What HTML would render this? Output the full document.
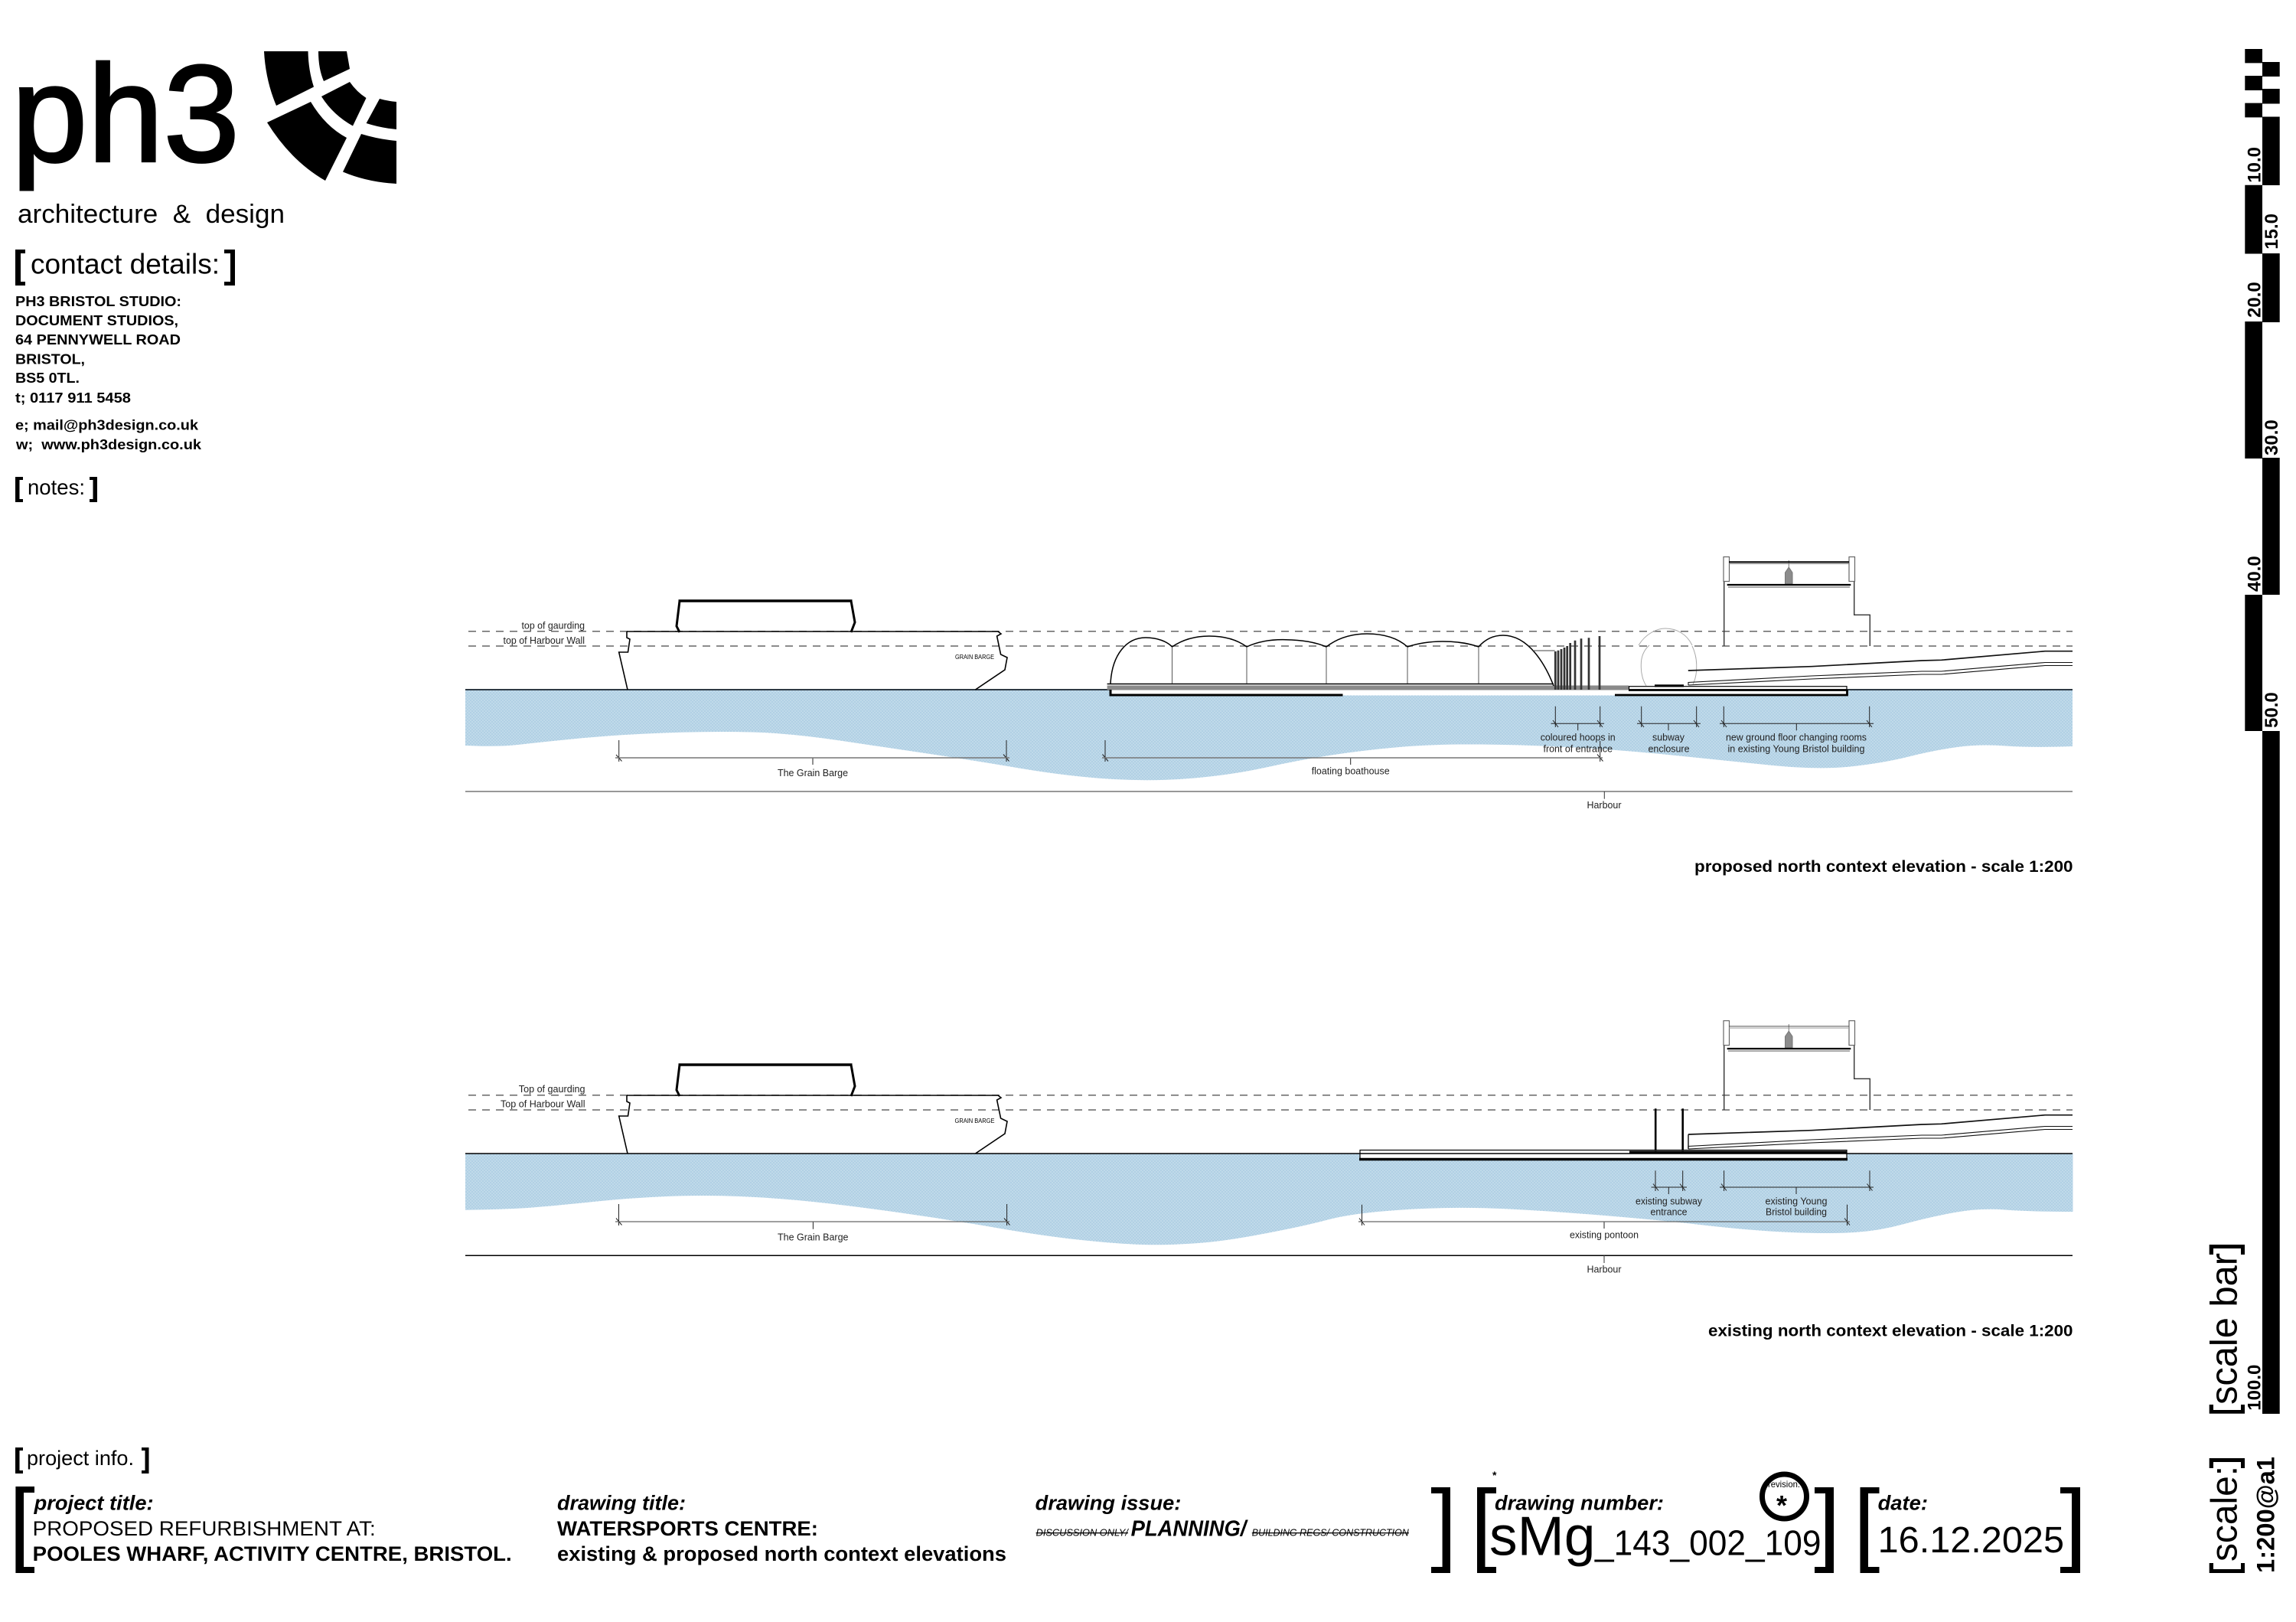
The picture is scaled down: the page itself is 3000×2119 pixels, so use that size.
<!DOCTYPE html>
<html><head><meta charset="utf-8"><title>ph3 north context elevations</title>
<style>html,body{margin:0;padding:0;background:#fff}svg{display:block}text{font-family:"Liberation Sans",sans-serif;fill:#000}.n{fill:#222;font-size:13px}.b{font-weight:bold}.bi{font-weight:bold;font-style:italic}</style></head>
<body>
<svg xmlns="http://www.w3.org/2000/svg" width="3000" height="2119" viewBox="0 0 3000 2119">
<defs>
<pattern id="w" width="4" height="4" patternUnits="userSpaceOnUse"><rect width="4" height="4" fill="#b9d5e7"/><path d="M0 1H2M2 3H4" stroke="#a9cbe1" stroke-width="1"/><path d="M2 1H4M0 3H2" stroke="#c8dfee" stroke-width="1"/></pattern>
<g id="barge">
<path d="M888,785 L884,818 L888,826 M1112,785 L1117,813 L1112,826" fill="none" stroke="#000" stroke-width="3"/>
<path d="M886.5,785 H1113.5" fill="none" stroke="#000" stroke-width="3.6"/>
<path d="M819,825 H1304 L1308,828 L1302.6,831 L1307.6,855 L1316,859 L1313,875 L1274.5,901 M819,825 V833 L823,835 L820.5,852 H808.7 L820,901" fill="none" stroke="#000" stroke-width="1.6"/>
</g>
<g id="bldg">
<path d="M2252.7,759.3 V844 M2422.7,759.3 V803.3 H2443.3 V844" fill="none" stroke="#333" stroke-width="1.4"/>
<rect x="2252" y="727.5" width="7.5" height="32" fill="#fff" stroke="#666" stroke-width="1.2"/>
<rect x="2416" y="727.5" width="7.5" height="32" fill="#fff" stroke="#666" stroke-width="1.2"/>
<path d="M2337.3,732 V741 M2332.5,748 L2337.3,741 L2342,748 V762.7 H2332.5Z" fill="#8c8c8c" stroke="#777"/>
<path d="M2256.7,764 H2418.3" stroke="#000" stroke-width="2.2"/>
<path d="M2258,767 H2417" stroke="#777" stroke-width="1.3"/>
</g>
<g id="ramp" fill="none" stroke="#111">
<path d="M2205.8,876 L2367,870.7 L2511,863 L2536.6,862.3 L2672,850.7 H2708" stroke-width="1.7"/>
<path d="M2206,895 V891.5 L2367,883 L2511,877 L2536.6,877 L2672,865.5 H2708" stroke-width="1.1"/>
<path d="M2206,895 L2367,887 L2511,881 L2536.6,881 L2672,869.5 H2708" stroke-width="1.1"/>
</g>
</defs>

<!-- logo -->
<text x="15" y="210.6" font-size="180" textLength="298" lengthAdjust="spacingAndGlyphs" stroke="#000" stroke-width="3">ph3</text>
<path d="M345,67H402.5Q403,92 410,113.5L361,138Q347,105 345,67Z M416,67H453L457,90L423,106Q416,90 416,67Z M420,126L457,107Q466,120 478.5,128L461,164.5Q435,150 420,126Z M496,129Q506,132 518,133V169Q497,167 478.6,161Z M349,160L406,133Q425,165 453,180L425,236Q380,210 349,160Z M472,175Q495,182 518,184V240Q480,238 448,224.5Z" fill="#000"/>
<text x="23" y="291" font-size="34" textLength="349" lengthAdjust="spacingAndGlyphs" xml:space="preserve">architecture  &amp;  design</text>

<!-- contact -->
<path d="M20,326H33V331H27V368H33V373H20Z M293,326H307V373H293V368H301V331H293Z M20,623H30V627H25.5V652H30V656H20Z M117,623H127V656H117V652H121.5V627H117Z M20,1891H30V1895H25.5V1921H30V1925H20Z M185,1891H194.5V1925H185V1921H189.5V1895H185Z" fill="#000"/>
<text x="40" y="357.5" font-size="37" textLength="247" lengthAdjust="spacingAndGlyphs">contact details:</text>
<g class="b" font-size="18.9" font-weight="bold">
<text x="20" y="400" class="b" font-size="18.9" textLength="217" lengthAdjust="spacingAndGlyphs">PH3 BRISTOL STUDIO:</text>
<text x="20" y="425" class="b" font-size="18.9" textLength="213" lengthAdjust="spacingAndGlyphs">DOCUMENT STUDIOS,</text>
<text x="20" y="450" class="b" font-size="18.9" textLength="216" lengthAdjust="spacingAndGlyphs">64 PENNYWELL ROAD</text>
<text x="20" y="475.5" class="b" font-size="18.9" textLength="91" lengthAdjust="spacingAndGlyphs">BRISTOL,</text>
<text x="20" y="500" class="b" font-size="18.9" textLength="84" lengthAdjust="spacingAndGlyphs">BS5 0TL.</text>
<text x="20" y="526" class="b" font-size="18.9" textLength="151" lengthAdjust="spacingAndGlyphs">t; 0117 911 5458</text>
<text x="20" y="561.6" class="b" font-size="18.9" textLength="239" lengthAdjust="spacingAndGlyphs">e; mail@ph3design.co.uk</text>
<text x="21" y="587" class="b" font-size="18.9" textLength="242" lengthAdjust="spacingAndGlyphs" xml:space="preserve">w;  www.ph3design.co.uk</text>
</g>
<text x="36" y="646" font-size="27.5" textLength="75" lengthAdjust="spacingAndGlyphs">notes:</text>

<!-- TOP DRAWING -->
<path fill="url(#w)" d="M608,974 Q651,976 676.5,973 Q702,970 753,965 Q804,960 868,957.5 Q932,955 983,956.5 Q1034,958 1097.5,967.5 Q1161,977 1212,984.5 Q1263,992 1331.5,1003.5 Q1400,1015 1455,1018 Q1510,1021 1561,1016.5 Q1612,1012 1654.5,1002.5 Q1697,993 1739.5,986.5 Q1782,980 1828.5,976 Q1875,972 1934.5,972.5 Q1994,973 2057.5,976.5 Q2121,980 2184.5,986.5 Q2248,993 2311.5,999.5 Q2375,1006 2417.5,1001.5 Q2460,997 2494,988.5 Q2528,980 2557.5,976 Q2587,972 2621,974.5 Q2655,977 2708,975 V901 H608 Z"/>
<rect x="1451" y="901" width="962" height="7.5" fill="#fff"/>
<path d="M608,901 H2708" stroke="#2e3a44" stroke-width="2"/>
<rect x="1451" y="901" width="962" height="6.5" fill="#fff"/>
<path d="M612,824.7 H2708 M612,844 H2708" stroke="#666" stroke-width="1.5" stroke-dasharray="10 8" fill="none"/>
<use href="#barge"/>
<text class="n" x="681.5" y="821.7" textLength="82.5" lengthAdjust="spacingAndGlyphs">top of gaurding</text>
<text class="n" x="657.5" y="841" textLength="106.5" lengthAdjust="spacingAndGlyphs">top of Harbour Wall</text>
<text x="1248" y="861" font-size="8" fill="#333" textLength="51" lengthAdjust="spacingAndGlyphs">GRAIN BARGE</text>
<path d="M608,1034 H2708" stroke="#777" stroke-width="1.5"/>
<path d="M2096.3,1034 V1043.7" stroke="#333" stroke-width="1"/>
<text class="n" x="2073.5" y="1056" textLength="45" lengthAdjust="spacingAndGlyphs">Harbour</text>

<!-- boathouse -->
<path d="M1446.6,893.5 H2030" stroke="#000" stroke-width="1.5"/>
<rect x="1446.6" y="895.5" width="681.4" height="6" fill="#8a8a8a"/>
<path d="M1451,893 C1453,855 1472,833 1497,833 C1512,833 1525,838 1531.5,845 Q1552,831 1580,831 Q1610,831 1629,845 Q1650,835 1680,835.7 Q1712,836 1733,845 Q1755,828 1786,828 Q1820,828 1839,845 Q1860,838 1885,838 Q1912,838 1932,845 Q1945,830 1964,830 C1998,830 2020,870 2030,896" fill="none" stroke="#000" stroke-width="1.5"/>
<path d="M1531.5,845 V893 M1629,845 V893 M1733,845 V893 M1839,845 V893 M1932,845 V893 M2003,850 H2031.7" stroke="#444" stroke-width="0.9"/>
<path d="M2032.3,901 V851 M2036,901 V849.7 M2040,901 V848 M2044,901 V846 M2047.7,901 V844 M2051.7,901 V840 M2058,901 V836.7 M2066,901 V834.3 M2076,901 V833.3 M2090,901 V831" stroke="#333" stroke-width="2.7"/>
<path d="M1451,901 V908 H1754.5" fill="none" stroke="#000" stroke-width="3"/>
<rect x="2128.5" y="896.7" width="284.5" height="4.3" fill="#fff" stroke="#000" stroke-width="1.2"/>
<path d="M2110,908 H2413.5 V901 M2128,901.5 H2413" fill="none" stroke="#000" stroke-width="2.8"/>
<rect x="2162" y="894.3" width="38" height="3.2" fill="#000"/>
<path d="M2141,843 C2150,828 2165,821 2176,821 C2190,821 2204,828 2211,843 M2155,843 C2147,850 2144,860 2144.3,870 C2144,880 2147,890 2151,896 M2211,844 C2214,850 2217,860 2216.7,870 C2217,880 2215,888 2212,894" fill="none" stroke="#aaa" stroke-width="1"/>
<use href="#ramp"/>
<use href="#bldg"/>
<path d="M2259,734.3 H2416" stroke="#000" stroke-width="2"/><path d="M2259,736.4 H2416" stroke="#777" stroke-width="1"/>

<!-- dims top -->
<g fill="none" stroke="#222" stroke-width="1">
<path d="M808.7,967 V995 M1315,967 V995 M1062,990 V999 M805,986 L812.5,994.5 M1311,985.5 L1318.5,994.5"/>
<path d="M1444,967 V995 M2090.7,968 V995 M1764.7,990 V999 M1440.5,985.5 L1448,994.5 M2087,985.5 L2094.5,994.5"/>
<path d="M2032.3,922.7 V950 M2090.7,922.7 V950 M2026.5,945.3 H2096 M2061.7,945.3 V954.3 M2029,941 L2036,950 M2087,941 L2094,950"/>
<path d="M2144.7,922.7 V950 M2216.7,922.7 V950 M2139,945.3 H2222 M2180,945.3 V954.3 M2141,941 L2148,950 M2213,941 L2220,950"/>
<path d="M2252.3,922.7 V950 M2442.7,922.7 V950 M2247,945.3 H2448 M2347.3,945.3 V954.3 M2249,941 L2256,950 M2439,941 L2446,950"/>
</g>
<path d="M804,990 H1319 M1440,990 H2094" stroke="#777" stroke-width="1.4" fill="none"/>
<text class="n" x="1016" y="1014" textLength="92" lengthAdjust="spacingAndGlyphs">The Grain Barge</text>
<text class="n" x="1713.7" y="1011.3" textLength="102" lengthAdjust="spacingAndGlyphs">floating boathouse</text>
<text class="n" x="2012.7" y="967.3" textLength="98" lengthAdjust="spacingAndGlyphs">coloured hoops in</text>
<text class="n" x="2016.5" y="982.3" textLength="90.5" lengthAdjust="spacingAndGlyphs">front of entrance</text>
<text class="n" x="2159" y="967.3" textLength="42" lengthAdjust="spacingAndGlyphs">subway</text>
<text class="n" x="2153.5" y="982.3" textLength="54" lengthAdjust="spacingAndGlyphs">enclosure</text>
<text class="n" x="2255" y="967.3" textLength="184" lengthAdjust="spacingAndGlyphs">new ground floor changing rooms</text>
<text class="n" x="2257.5" y="982.3" textLength="179" lengthAdjust="spacingAndGlyphs">in existing Young Bristol building</text>
<text class="b" x="2214" y="1139" font-size="21.5" font-weight="bold" textLength="494.5" lengthAdjust="spacingAndGlyphs" style="font-weight:bold">proposed north context elevation - scale 1:200</text>

<!-- BOTTOM DRAWING -->
<path fill="url(#w)" d="M608,1580.7 Q664,1580 695.7,1577.5 Q727.5,1575 775,1570 Q823,1565 871,1563 Q919,1561 966.7,1563 Q1014.5,1565 1062,1570 Q1110,1575 1174,1584 Q1238,1593 1301.5,1604 Q1365,1615 1413,1620 Q1461,1625 1493,1626 Q1525,1627 1562.5,1624.3 Q1600,1621.7 1650,1612 Q1700,1602.7 1733,1594 Q1765.7,1585 1825,1581 Q1884,1576.7 1940,1578.3 Q1995.7,1580 2078,1586.5 Q2160,1593 2225.5,1600.5 Q2291,1608 2340.5,1610 Q2390,1612 2423,1610 Q2455.6,1608 2488,1599 Q2521,1590 2554,1584 Q2587,1578 2620,1580.5 Q2652.7,1583 2708.5,1583 V1507 H608 Z"/>
<path d="M608,1507 H2708" stroke="#000" stroke-width="1.5"/>
<path d="M612,1430.7 H2708 M612,1450 H2708" stroke="#666" stroke-width="1.5" stroke-dasharray="10 8" fill="none"/>
<use href="#barge" y="606"/>
<text class="n" x="677.8" y="1427" textLength="86.7" lengthAdjust="spacingAndGlyphs">Top of gaurding</text>
<text class="n" x="654" y="1446.7" textLength="110.5" lengthAdjust="spacingAndGlyphs">Top of Harbour Wall</text>
<text x="1247.5" y="1467" font-size="8" fill="#333" textLength="52" lengthAdjust="spacingAndGlyphs">GRAIN BARGE</text>
<path d="M608,1640.3 H2708" stroke="#000" stroke-width="1.5"/>
<path d="M2096,1640 V1650" stroke="#333" stroke-width="1"/>
<text class="n" x="2073.5" y="1662.7" textLength="45" lengthAdjust="spacingAndGlyphs">Harbour</text>

<rect x="1777" y="1502.5" width="636" height="12" fill="#fff" stroke="#000" stroke-width="1.2"/>
<path d="M1777,1507 H2413" stroke="#000" stroke-width="1.5"/>
<path d="M2129,1505 H2413" stroke="#000" stroke-width="3"/>
<path d="M1776,1514.5 H2414" stroke="#000" stroke-width="3.4"/>
<path d="M2163.2,1448.3 V1503.3 M2198.7,1448.3 V1503.3" stroke="#000" stroke-width="2.6"/>
<use href="#ramp" y="606"/>
<path d="M2206,1482.3 V1501" stroke="#111" stroke-width="1.4"/>
<use href="#bldg" y="606"/>
<path d="M2259,1340.7 H2416" stroke="#555" stroke-width="1"/><path d="M2259,1343 H2416" stroke="#999" stroke-width="0.9"/>

<g fill="none" stroke="#222" stroke-width="1">
<path d="M808.5,1573 V1601 M1315.6,1573 V1601 M1062.4,1596 V1605.7 M805,1591.5 L812.5,1600.5 M1312,1591.5 L1319.5,1600.5"/>
<path d="M1779.5,1573.7 V1601 M2413.5,1573.7 V1601 M2096,1596 V1605 M1776,1591.5 L1783,1600.5 M2410,1591.5 L2417,1600.5"/>
<path d="M2163,1529.3 V1556 M2198.7,1529.3 V1556 M2157.5,1551 H2204 M2180.3,1551 V1560 M2160,1546.5 L2167,1555.5 M2195,1546.5 L2202,1555.5"/>
<path d="M2252.6,1529.3 V1556 M2443,1529.3 V1556 M2247,1551 H2448 M2347,1551 V1560 M2249,1546.5 L2256,1555.5 M2439.5,1546.5 L2446.5,1555.5"/>
</g>
<path d="M804,1596 H1319 M1775,1596 H2417" stroke="#666" stroke-width="1.2" fill="none"/>
<text class="n" x="1016" y="1620.3" textLength="92.5" lengthAdjust="spacingAndGlyphs">The Grain Barge</text>
<text class="n" x="2051" y="1617.7" textLength="90" lengthAdjust="spacingAndGlyphs">existing pontoon</text>
<text class="n" x="2137" y="1573.3" textLength="87" lengthAdjust="spacingAndGlyphs">existing subway</text>
<text class="n" x="2156.5" y="1587.7" textLength="48" lengthAdjust="spacingAndGlyphs">entrance</text>
<text class="n" x="2306.5" y="1573.3" textLength="81" lengthAdjust="spacingAndGlyphs">existing Young</text>
<text class="n" x="2307" y="1587.7" textLength="80" lengthAdjust="spacingAndGlyphs">Bristol building</text>
<text x="2232" y="1745.5" font-size="21.5" textLength="476.5" lengthAdjust="spacingAndGlyphs" style="font-weight:bold">existing north context elevation - scale 1:200</text>

<!-- TITLE BLOCK -->
<text x="35" y="1914" font-size="27" textLength="140" lengthAdjust="spacingAndGlyphs">project info.</text>
<path d="M20.4,1942H45V1950H31V2047H45V2055H20.4Z M1870,1943H1895V2055H1870V2047H1884.6V1951H1870Z M1930,1943H1955V1951H1940.5V2047H1955V2055H1930Z M2371,1943H2396V2055H2371V2047H2385V1951H2371Z M2430.5,1943H2455.5V1951H2441V2047H2455.5V2055H2430.5Z M2692,1943H2718V2055H2692V2047H2707V1951H2692Z" fill="#000"/>
<text x="44.6" y="1972.7" font-size="27" class="bi" textLength="156" lengthAdjust="spacingAndGlyphs">project title:</text>
<text x="42.7" y="2006" font-size="27" textLength="448" lengthAdjust="spacingAndGlyphs">PROPOSED REFURBISHMENT AT:</text>
<text x="42.7" y="2039" font-size="27" class="b" textLength="626" lengthAdjust="spacingAndGlyphs">POOLES WHARF, ACTIVITY CENTRE, BRISTOL.</text>
<text x="728" y="1972.7" font-size="27" class="bi" textLength="168" lengthAdjust="spacingAndGlyphs">drawing title:</text>
<text x="728" y="2006" font-size="27" class="b" textLength="341" lengthAdjust="spacingAndGlyphs">WATERSPORTS CENTRE:</text>
<text x="728" y="2039" font-size="27" class="b" textLength="587" lengthAdjust="spacingAndGlyphs">existing &amp; proposed north context elevations</text>
<text x="1352.7" y="1972.7" font-size="27" class="bi" textLength="190.6" lengthAdjust="spacingAndGlyphs">drawing issue:</text>
<text x="1353.6" y="2006.7" font-size="13" font-style="italic" fill="#444" style="font-style:italic;text-decoration:line-through" textLength="120.4" lengthAdjust="spacingAndGlyphs">DISCUSSION ONLY/</text>
<text x="1477.6" y="2006.7" font-size="29" class="bi" textLength="150.8" lengthAdjust="spacingAndGlyphs">PLANNING/</text>
<text x="1635.8" y="2006.7" font-size="13" fill="#444" style="font-style:italic;text-decoration:line-through" textLength="205" lengthAdjust="spacingAndGlyphs">BUILDING REGS/ CONSTRUCTION</text>
<text x="1953" y="1972.7" font-size="27" class="bi" textLength="221" lengthAdjust="spacingAndGlyphs">drawing number:</text>
<text x="1950" y="1932" font-size="14" class="b">*</text>
<text x="1946" y="2031.7" font-size="72" textLength="138.5" lengthAdjust="spacingAndGlyphs">sMg</text>
<text x="2084" y="2031.7" font-size="46" textLength="295.5" lengthAdjust="spacingAndGlyphs">_143_002_109</text>
<circle cx="2331.5" cy="1955" r="29" fill="#fff" stroke="#000" stroke-width="7"/>
<text x="2310" y="1943" font-size="12" fill="#222" textLength="42" lengthAdjust="spacingAndGlyphs">revision:</text>
<text x="2321" y="1979" font-size="36" class="b">*</text>
<text x="2453.6" y="1972.7" font-size="27" class="bi" textLength="65.4" lengthAdjust="spacingAndGlyphs">date:</text>
<text x="2453.6" y="2028" font-size="48" textLength="243.4" lengthAdjust="spacingAndGlyphs">16.12.2025</text>

<!-- SCALE BAR -->
<path fill="#000" d="M2933.3,64H2956V82.4H2933.3Z M2933.3,99H2956V118H2933.3Z M2933.3,134.6H2956V153.4H2933.3Z M2933.3,241.8H2956V331.5H2933.3Z M2933.3,420H2956V599H2933.3Z M2933.3,777H2956V955H2933.3Z M2956,81H2978.7V100H2956Z M2956,116H2978.7V135.5H2956Z M2956,152.5H2978.7V242H2956Z M2956,331H2978.7V421H2956Z M2956,598H2978.7V777H2956Z M2956,955H2978.7V1847H2956Z"/>
<g font-size="24" style="font-weight:bold">
<text transform="translate(2953.5,238.7) rotate(-90)" font-size="24" style="font-weight:bold">10.0</text>
<text transform="translate(2976,325.7) rotate(-90)" font-size="24" style="font-weight:bold">15.0</text>
<text transform="translate(2953.5,415) rotate(-90)" font-size="24" style="font-weight:bold">20.0</text>
<text transform="translate(2976,595) rotate(-90)" font-size="24" style="font-weight:bold">30.0</text>
<text transform="translate(2953.5,773) rotate(-90)" font-size="24" style="font-weight:bold">40.0</text>
<text transform="translate(2976,951) rotate(-90)" font-size="24" style="font-weight:bold">50.0</text>
<text transform="translate(2953.5,1842.7) rotate(-90)" font-size="24" style="font-weight:bold">100.0</text>
</g>
<path fill="#000" d="M2886.7,1835H2892V1842H2928V1835H2933V1846.7H2886.7Z M2886.7,1626H2933V1639H2928V1631H2892V1639H2886.7Z M2886.7,2042H2892V2050H2928V2042H2933V2055H2886.7Z M2886.7,1905H2933V1918H2928V1910H2892V1918H2886.7Z"/>
<text transform="translate(2922.7,1835) rotate(-90)" font-size="49" textLength="198" lengthAdjust="spacingAndGlyphs">scale bar</text>
<text transform="translate(2922.7,2040) rotate(-90)" font-size="48" textLength="125" lengthAdjust="spacingAndGlyphs">scale:</text>
<text transform="translate(2971.7,2055) rotate(-90)" font-size="32.7" textLength="152" lengthAdjust="spacingAndGlyphs" style="font-weight:bold">1:200@a1</text>
</svg>
</body></html>
